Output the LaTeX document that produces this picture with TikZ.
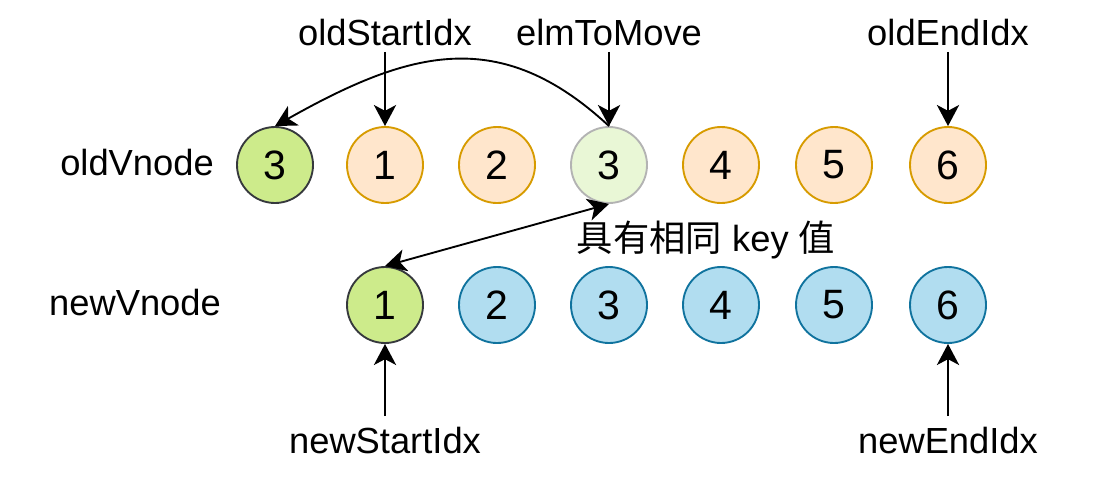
\documentclass[tikz,border=0pt]{standalone}
\usepackage{fontspec}
\setmainfont{Liberation Sans}
\newfontfamily\cjk{Noto Sans CJK SC}
\usetikzlibrary{arrows.meta}
\definecolor{grfill}{HTML}{CDEB8B}
\definecolor{grdraw}{HTML}{36393D}
\definecolor{lgfill}{HTML}{E9F7D6}
\definecolor{lgdraw}{HTML}{B3B3B3}
\definecolor{orfill}{HTML}{FFE6CC}
\definecolor{ordraw}{HTML}{D79B00}
\definecolor{blfill}{HTML}{B1DDF0}
\definecolor{bldraw}{HTML}{10739E}
\tikzset{
  x=0.03cm, y=-0.03cm,
  every node/.style={font=\fontsize{31}{37}\selectfont, inner sep=0pt},
  vn/.style={circle, minimum size=2.28cm, line width=1.6pt, font=\fontsize{35}{40}\selectfont},
  grn/.style={vn, fill=grfill, draw=grdraw},
  lgr/.style={vn, fill=lgfill, draw=lgdraw},
  org/.style={vn, fill=orfill, draw=ordraw},
  blu/.style={vn, fill=blfill, draw=bldraw},
  lbl/.style={anchor=center},
  tip/.tip={Stealth[length=18pt,width=19pt,inset=5pt]},
  arr/.style={-tip, line width=1.6pt},
  darr/.style={tip-tip, line width=1.6pt}
}
\begin{document}
\begin{tikzpicture}
\useasboundingbox (0,0) rectangle (1098,479);
% old row
\node[grn] (o0) at (275,165) {3};
\node[org] (o1) at (385,165) {1};
\node[org] (o2) at (497,165) {2};
\node[lgr] (o3) at (609,165) {3};
\node[org] (o4) at (721,165) {4};
\node[org] (o5) at (834,165) {5};
\node[org] (o6) at (948,165) {6};
% new row
\node[grn] (n1) at (385,305) {1};
\node[blu] (n2) at (497,305) {2};
\node[blu] (n3) at (609,305) {3};
\node[blu] (n4) at (721,305) {4};
\node[blu] (n5) at (834,305) {5};
\node[blu] (n6) at (948,305) {6};
% labels
\node[lbl] (oldv) at (137,163) {oldVnode};
\node[lbl] (newv) at (135,303) {newVnode};
\node[lbl] (osi) at (385,33) {oldStartIdx};
\node[lbl] (etm) at (609,33) {elmToMove};
\node[lbl] (oei) at (948,33) {oldEndIdx};
\node[lbl] (nsi) at (385,441) {newStartIdx};
\node[lbl] (nei) at (948,441) {newEndIdx};
\node[lbl] (same) at (706,240) {{\cjk 具有相同} key {\cjk 值}};
% arrow start points
\coordinate (osiS) at (385,52);
\coordinate (etmS) at (609,52);
\coordinate (oeiS) at (948,52);
\coordinate (nsiS) at (385,416);
\coordinate (neiS) at (948,416);
% arrows
\draw[arr] (osiS) -- (o1.north);
\draw[arr] (etmS) -- (o3.north);
\draw[arr] (oeiS) -- (o6.north);
\draw[arr] (nsiS) -- (n1.south);
\draw[arr] (neiS) -- (n6.south);
\draw[arr] (o3.north) .. controls (500,25) and (410,50) .. (o0.north);
\draw[darr] (o3.south) -- (n1.north);
\end{tikzpicture}
\end{document}
